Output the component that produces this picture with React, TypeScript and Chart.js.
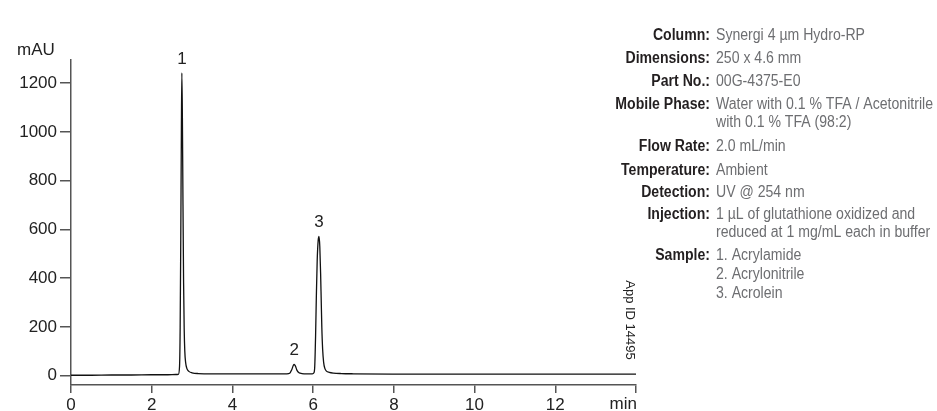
import React, { useEffect, useRef } from "react";
import { Chart, registerables } from "chart.js";

Chart.register(...registerables);

// Chromatogram trace (retention time in min, absorbance in mAU)
const times = [
  0, 0.5, 1.0, 1.5, 2.0, 2.4, 2.6, 2.66,
  2.69, 2.705, 2.72, 2.735, 2.747, 2.76, 2.775, 2.79, 2.805, 2.82,
  2.84, 2.87, 2.92, 3.0, 3.15, 3.5, 4.0, 4.5, 5.0, 5.35,
  5.42, 5.47, 5.51, 5.53, 5.56, 5.6, 5.65, 5.72, 5.85, 5.98,
  6.02, 6.04, 6.06, 6.08, 6.1, 6.125, 6.146, 6.165, 6.185, 6.2,
  6.215, 6.235, 6.26, 6.29, 6.33, 6.4, 6.5, 6.7, 7, 8,
  9, 10, 11, 12, 13, 14,
];
const absorbance = [
  2, 2, 3, 3, 4, 4, 5, 6,
  40, 200, 560, 1000, 1242, 1060, 700, 380, 190, 100,
  55, 30, 18, 12, 9, 8, 8, 8, 8, 8,
  10, 25, 43, 47, 40, 22, 12, 9, 8, 8,
  12, 40, 160, 330, 470, 555, 571, 530, 420, 310,
  200, 110, 55, 30, 19, 14, 11, 9, 8, 7,
  7, 7, 7, 7, 7, 7,
];

// Peak labels
const peakNames = ["1", "2", "3"];
const peakTimes = [2.747, 5.53, 6.146];
const peakHeights = [1242, 47, 571];

// Axis ticks
const xTicks = [0, 2, 4, 6, 8, 10, 12, 14];
const xTickLabels = ["0", "2", "4", "6", "8", "10", "12", ""];
const xUnit = "min";
const yTicks = [0, 200, 400, 600, 800, 1000, 1200];
const yUnit = "mAU";

// Method conditions
const infoLabels = [
  "Column:", "Dimensions:", "Part No.:", "Mobile Phase:", "", "Flow Rate:",
  "Temperature:", "Detection:", "Injection:", "", "Sample:", "", "",
];
const infoValues = [
  "Synergi 4 µm Hydro-RP",
  "250 x 4.6 mm",
  "00G-4375-E0",
  "Water with 0.1 % TFA / Acetonitrile",
  "with 0.1 % TFA (98:2)",
  "2.0 mL/min",
  "Ambient",
  "UV @ 254 nm",
  "1 µL of glutathione oxidized and",
  "reduced at 1 mg/mL each in buffer",
  "1. Acrylamide",
  "2. Acrylonitrile",
  "3. Acrolein",
];
const infoLineY = [36, 59, 82, 105, 123, 147, 171, 193, 215, 233, 256, 275, 294];
const appId = "App ID 14495";

const FONT = "'Liberation Sans', Arial, Helvetica, sans-serif";
const TICK_SIZE = 17;

const annotations = {
  id: "annotations",
  afterDraw(chart: any) {
    const ctx = chart.ctx;
    const xs = chart.scales.x;
    const ys = chart.scales.y;
    ctx.save();
    // unit labels
    ctx.fillStyle = "#222";
    ctx.font = `${TICK_SIZE}px ${FONT}`;
    ctx.textAlign = "left";
    ctx.textBaseline = "middle";
    ctx.fillText(yUnit, 17, 50);
    ctx.textAlign = "right";
    ctx.textBaseline = "top";
    ctx.fillText(xUnit, xs.getPixelForValue(xTicks[xTicks.length - 1]) + 1, xs.top + 11);
    // peak labels
    ctx.textAlign = "center";
    ctx.textBaseline = "middle";
    for (let i = 0; i < peakNames.length; i++) {
      const px = xs.getPixelForValue(peakTimes[i]);
      const py = ys.getPixelForValue(peakHeights[i]);
      ctx.fillText(peakNames[i], px, py - 14);
    }
    // info block
    const sx = 0.88;
    for (let i = 0; i < infoValues.length; i++) {
      const y = infoLineY[i];
      if (infoLabels[i]) {
        ctx.save();
        ctx.translate(710, y);
        ctx.scale(sx, 1);
        ctx.font = `bold 16px ${FONT}`;
        ctx.fillStyle = "#231f20";
        ctx.textAlign = "right";
        ctx.fillText(infoLabels[i], 0, 0);
        ctx.restore();
      }
      ctx.save();
      ctx.translate(716, y);
      ctx.scale(sx, 1);
      ctx.font = `16px ${FONT}`;
      ctx.fillStyle = "#6d6e71";
      ctx.textAlign = "left";
      ctx.fillText(infoValues[i], 0, 0);
      ctx.restore();
    }
    // App ID rotated
    ctx.save();
    ctx.translate(630, 320);
    ctx.rotate(Math.PI / 2);
    ctx.font = `13px ${FONT}`;
    ctx.fillStyle = "#222";
    ctx.textAlign = "center";
    ctx.textBaseline = "middle";
    ctx.fillText(appId, 0, 0);
    ctx.restore();
    ctx.restore();
  },
};

export default function App() {
  const ref = useRef<HTMLCanvasElement | null>(null);
  useEffect(() => {
    if (!ref.current) return;
    const chart = new Chart(ref.current, {
      type: "line",
      data: {
        datasets: [
          {
            data: times.map((t, i) => ({ x: t, y: absorbance[i] })),
            borderColor: "#111",
            borderWidth: 1.3,
            pointRadius: 0,
            cubicInterpolationMode: "monotone",
            fill: false,
          },
        ],
      },
      options: {
        responsive: false,
        animation: false,
        events: [],
        layout: { padding: { left: 0, top: 60, right: 301, bottom: 0 } },
        plugins: { legend: { display: false }, tooltip: { enabled: false } },
        scales: {
          x: {
            type: "linear",
            min: 0,
            max: 14,
            afterFit: (s: any) => {
              s.height = 26;
            },
            afterBuildTicks: (s: any) => {
              s.ticks = xTicks.map((v) => ({ value: v }));
            },
            border: { display: true, color: "#555", width: 1.5 },
            grid: { drawOnChartArea: false, drawTicks: true, tickLength: 8, color: "#555", lineWidth: 1.5 },
            ticks: {
              padding: 2,
              color: "#222",
              font: { size: TICK_SIZE, family: FONT },
              maxRotation: 0,
              autoSkip: false,
              callback: (v: any) => {
                const idx = xTicks.indexOf(Number(v));
                return idx >= 0 ? xTickLabels[idx] : "";
              },
            },
          },
          y: {
            type: "linear",
            min: -38,
            max: 1295,
            afterFit: (s: any) => {
              s.width = 71;
            },
            afterBuildTicks: (s: any) => {
              s.ticks = yTicks.map((v) => ({ value: v }));
            },
            border: { display: true, color: "#555", width: 1.5 },
            grid: { drawOnChartArea: false, drawTicks: true, tickLength: 11, color: "#555", lineWidth: 1.5 },
            ticks: {
              padding: 3,
              color: "#222",
              font: { size: TICK_SIZE, family: FONT },
              autoSkip: false,
              callback: (v: any) => String(v),
            },
          },
        },
      },
      plugins: [annotations],
    });
    return () => chart.destroy();
  }, []);
  return (
    <div style={{ position: "absolute", left: 0, top: 0, width: 937, height: 411, background: "#fff" }}>
      <canvas ref={ref} width={937} height={411} />
    </div>
  );
}
